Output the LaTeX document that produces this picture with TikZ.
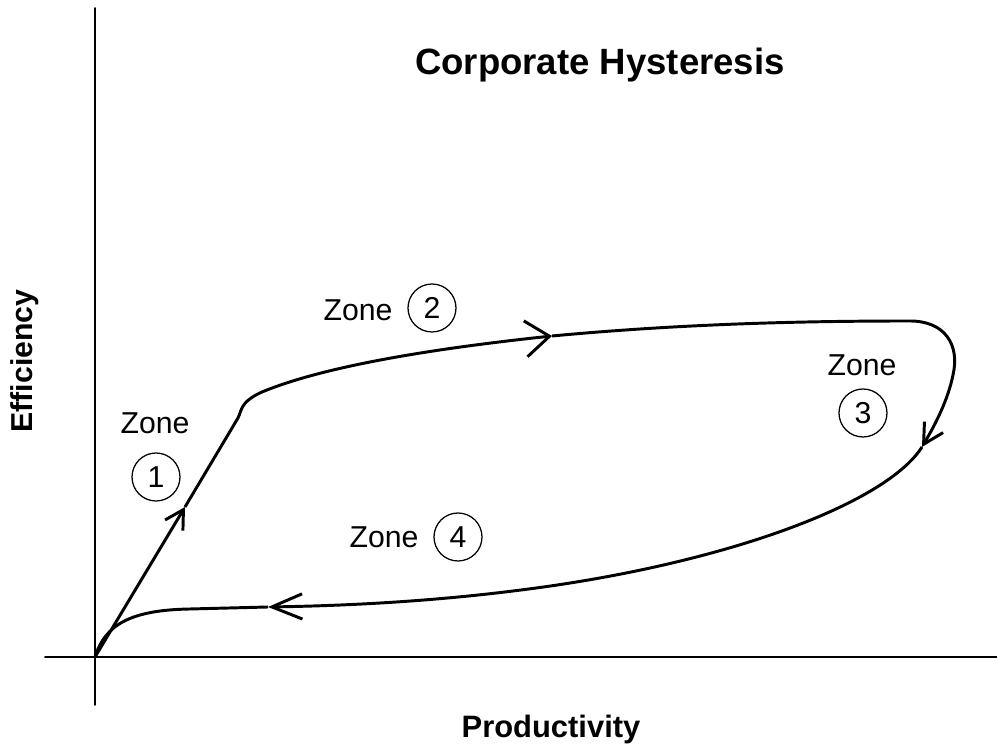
\documentclass[tikz,border=0pt]{standalone}
\usepackage{fontspec}
\setmainfont{Liberation Sans}
\usepackage{tkz-euclide}
\usetikzlibrary{arrows.meta}

\begin{document}
\begin{tikzpicture}[
  hyst/.style={line width=2.1pt,line join=round},
  barb/.style 2 args={-{Straight Barb[length=#1,width=#2,line join=miter]}},
  zonetxt/.style={font=\fontsize{21.5}{24}\selectfont},
  zonenum/.style={draw,circle,line width=0.9pt,minimum size=1.2cm,inner sep=0pt,
    font=\fontsize{21.5}{24}\selectfont}]
\useasboundingbox (0,0) rectangle (24.925,18.625);
\tkzSetUpLine[line width=1.2pt,color=black]

% axes
\tkzDefPoints{2.375/2.2/O,2.375/18.425/Yt,2.375/1.0/Yb,1.125/2.2/Xl,24.925/2.2/Xr}
\tkzDrawSegments(Yb,Yt Xl,Xr)

% the loop, cut at each arrow
\tkzDefPoints{4.625/5.95/A1,5.95/8.175/K,6.55/8.825/B,13.8/10.225/A2,22.75/10.6/T,%
  23.825/9.25/R,23.05/7.45/A3,13.025/3.875/M,6.7/3.45/A4,4.75/3.4/F}

\draw[hyst,barb={4.6mm}{5.2mm}] (O) -- (A1);
\draw[hyst,barb={6mm}{9mm}] (A1) -- (K) .. controls (6.05,8.375) and (6.0,8.575) .. (B)
  .. controls (8.0,9.425) and (10.5,9.875) .. (A2);
\draw[hyst,barb={5mm}{5.4mm}] (A2) .. controls (17.0,10.525) and (20.0,10.6) .. (T)
  .. controls (23.625,10.6) and (24.0,10.0) .. (R)
  .. controls (23.7,8.625) and (23.375,8.0) .. (A3);
\draw[hyst,barb={7.6mm}{6.3mm}] (A3) .. controls (22.125,6.0) and (18.0,4.5) .. (M)
  .. controls (10.5,3.55) and (8.25,3.475) .. (A4);
\draw[hyst] (A4) -- (F) .. controls (3.25,3.375) and (2.625,3.0) .. (O);

% zones
\node[zonetxt] (z1) at (3.875,8.05) {Zone};
\node[zonenum] (n1) at (3.9,6.7) {1};
\node[zonetxt] (z2) at (8.95,10.875) {Zone};
\node[zonenum] (n2) at (10.8,10.925) {2};
\node[zonetxt] (z3) at (21.55,9.5) {Zone};
\node[zonenum] (n3) at (21.575,8.3) {3};
\node[zonetxt] (z4) at (9.6,5.2) {Zone};
\node[zonenum] (n4) at (11.45,5.2) {4};

% titles
\node[font=\bfseries\fontsize{26}{30}\selectfont,anchor=base] (title) at (15.0,16.75) {Corporate Hysteresis};
\node[font=\bfseries\fontsize{22}{26}\selectfont,anchor=base] (xlab) at (13.775,0.175) {Productivity};
\node[font=\bfseries\fontsize{21.5}{26}\selectfont,rotate=90,anchor=base] (ylab) at (0.8,9.6) {Efficiency};

\end{tikzpicture}
\end{document}
